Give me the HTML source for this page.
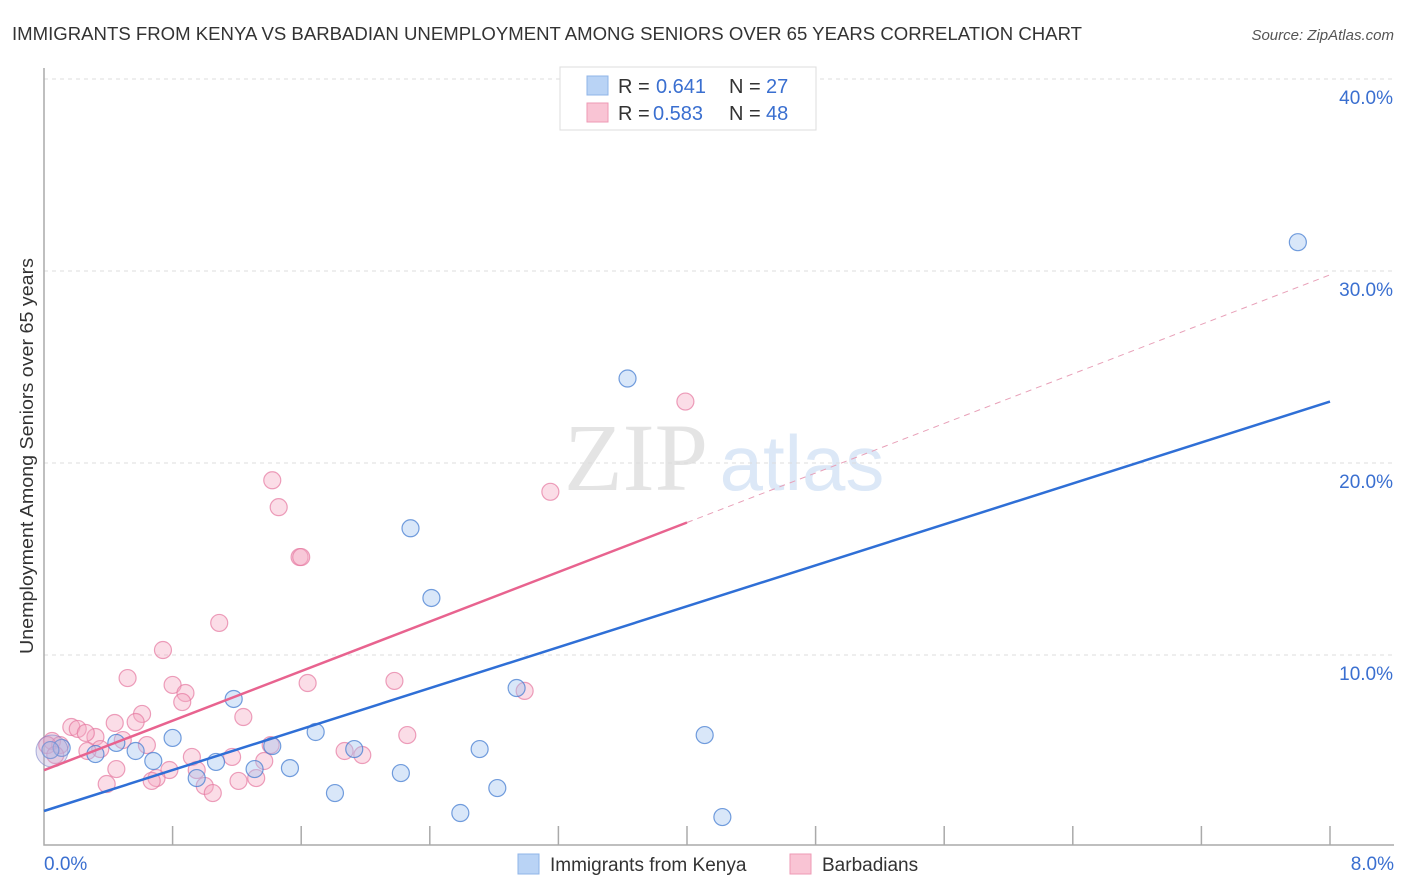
<!DOCTYPE html>
<html><head><meta charset="utf-8"><style>
body{margin:0;background:#fff;font-family:"Liberation Sans",sans-serif;}
svg{display:block}
</style></head><body>
<svg id="chart" width="1406" height="892" xmlns="http://www.w3.org/2000/svg">
<text x="12" y="40" font-size="18" fill="#333" textLength="1070" lengthAdjust="spacingAndGlyphs">IMMIGRANTS FROM KENYA VS BARBADIAN UNEMPLOYMENT AMONG SENIORS OVER 65 YEARS CORRELATION CHART</text>
<text x="1394" y="40" font-size="15" fill="#555" text-anchor="end" font-style="italic">Source: ZipAtlas.com</text>
<text transform="translate(33,456) rotate(-90)" font-size="18" fill="#333" text-anchor="middle" textLength="396" lengthAdjust="spacingAndGlyphs">Unemployment Among Seniors over 65 years</text>
<g>
<text x="636" y="490" font-size="96" fill="#e4e4e4" text-anchor="middle" font-family="Liberation Serif, serif">ZIP</text>
<text x="802" y="490" font-size="78" fill="#dce8f7" text-anchor="middle">atlas</text>
</g>
<g id="grid"></g><g id="axes"></g><g id="marks"></g>
<g>
<rect x="560" y="67" width="256" height="63" fill="#fff" stroke="#ddd"/>
<rect x="587" y="76" width="21" height="19" fill="#b9d3f5" stroke="#8fb4e8"/>
<rect x="587" y="103" width="21" height="19" fill="#f9c4d4" stroke="#ee9ab5"/>
<g font-size="20" fill="#333">
<text x="618" y="93">R =</text><text x="656" y="93" fill="#3a6fd0">0.641</text>
<text x="729" y="93">N =</text><text x="766" y="93" fill="#3a6fd0">27</text>
<text x="618" y="120">R =</text><text x="653" y="120" fill="#3a6fd0">0.583</text>
<text x="729" y="120">N =</text><text x="766" y="120" fill="#3a6fd0">48</text>
</g>
</g>
<g>
<rect x="518" y="854" width="21" height="20" fill="#b9d3f5" stroke="#8fb4e8"/>
<text x="550" y="871" font-size="19" fill="#333">Immigrants from Kenya</text>
<rect x="790" y="854" width="21" height="20" fill="#f9c4d4" stroke="#ee9ab5"/>
<text x="822" y="871" font-size="19" fill="#333">Barbadians</text>
</g>
</svg>
<script>
const yTicks=[10,20,30,40];
const yTickLabels=["10.0%","20.0%","30.0%","40.0%"];
const xTickLabels=["0.0%","8.0%"];
const kenyaX=[7.80,3.63,2.28,2.41,2.94,1.18,1.69,0.80,0.45,1.42,1.93,2.71,4.11,0.57,0.32,0.68,1.07,1.53,0.95,1.31,2.22,2.82,1.81,2.59,4.22,0.11,0.04];
const kenyaY=[31.5,24.4,16.6,12.97,8.28,7.71,5.99,5.68,5.42,5.26,5.10,5.10,5.83,5.0,4.84,4.48,4.43,4.11,3.59,4.06,3.85,3.07,2.81,1.77,1.56,5.16,5.05];
const barbX=[3.99,3.15,1.42,1.46,1.59,1.60,1.09,0.74,0.52,1.64,2.18,2.99,0.80,0.88,0.86,1.24,0.61,0.57,0.44,0.17,0.21,2.26,0.32,0.49,0.05,0.10,0.64,0.35,0.27,0.92,1.17,1.37,1.87,1.98,0.45,0.95,0.78,0.70,0.67,1.32,1.21,0.39,1.00,1.05,1.41,0.02,0.26,0.07];
const barbY=[23.2,18.5,19.1,17.7,15.1,15.1,11.67,10.26,8.80,8.54,8.65,8.13,8.44,8.02,7.55,6.77,6.93,6.51,6.46,6.25,6.15,5.83,5.73,5.57,5.52,5.31,5.31,5.10,5.0,4.69,4.69,4.48,5.0,4.79,4.06,4.01,4.01,3.59,3.44,3.59,3.44,3.28,3.18,2.81,5.31,5.31,5.94,4.79];
const kenyaTrend=[1.875,23.2];
const barbTrend=[4.0,29.8];
const NS="http://www.w3.org/2000/svg";
const sx=v=>44+v*160.75, sy=v=>847-v*19.2;
function mk(t,a,p){const e=document.createElementNS(NS,t);for(const k in a)e.setAttribute(k,a[k]);p.appendChild(e);return e;}
const grid=document.getElementById('grid'),axes=document.getElementById('axes'),marks=document.getElementById('marks');
yTicks.forEach((v,i)=>{
 const l=mk('line',{x1:44,x2:1394,y1:sy(v),y2:sy(v),stroke:'#ddd','stroke-dasharray':'4,4'},grid);
 
 
 const t=mk('text',{x:1393,y:sy(v)+25,'font-size':19,fill:'#3a6fd0','text-anchor':'end'},axes);
 t.textContent=yTickLabels[i];
 
 
});
const ax=mk('path',{d:'M44,68 V845 H1394',fill:'none',stroke:'#aaa','stroke-width':1.5},axes);


for(let i=1;i<=10;i++){const v=i*0.8;const t=mk('line',{x1:sx(v),x2:sx(v),y1:826,y2:845,stroke:'#aaa','stroke-width':1.5},axes);
 
 }
[[0,'start',44],[8,'end',1394]].forEach((d,i)=>{const t=mk('text',{x:d[2],y:870,'font-size':19,fill:'#3a6fd0','text-anchor':d[1]},axes);t.textContent=xTickLabels[i];
 
 });
function pts(X,Y,fill,stroke,name){X.forEach((x,i)=>{const c=mk('circle',{cx:sx(x),cy:sy(Y[i]),r:8.5,fill:fill,stroke:stroke,'stroke-width':1.2},marks);
 
 });}
pts(barbX,barbY,'rgba(246,170,195,0.4)','rgba(230,120,160,0.7)','barbadian-point');
pts(kenyaX,kenyaY,'rgba(160,196,240,0.4)','rgba(70,125,210,0.75)','kenya-point');
const big=mk('circle',{cx:sx(0.05),cy:sy(5.0),r:16,fill:'rgba(180,170,215,0.35)',stroke:'rgba(120,130,200,0.6)'},marks);


const kl=mk('line',{x1:sx(0),y1:sy(kenyaTrend[0]),x2:sx(8),y2:sy(kenyaTrend[1]),stroke:'#2f6fd6','stroke-width':2.5},marks);


const bm=(barbTrend[1]-barbTrend[0])/8;
const bl=mk('line',{x1:sx(0),y1:sy(barbTrend[0]),x2:sx(4),y2:sy(barbTrend[0]+bm*4),stroke:'#e8638f','stroke-width':2.5},marks);


const bd=mk('line',{x1:sx(4),y1:sy(barbTrend[0]+bm*4),x2:sx(8),y2:sy(barbTrend[1]),stroke:'#e8a0b8','stroke-width':1,'stroke-dasharray':'6,5'},marks);


</script>
</body></html>
